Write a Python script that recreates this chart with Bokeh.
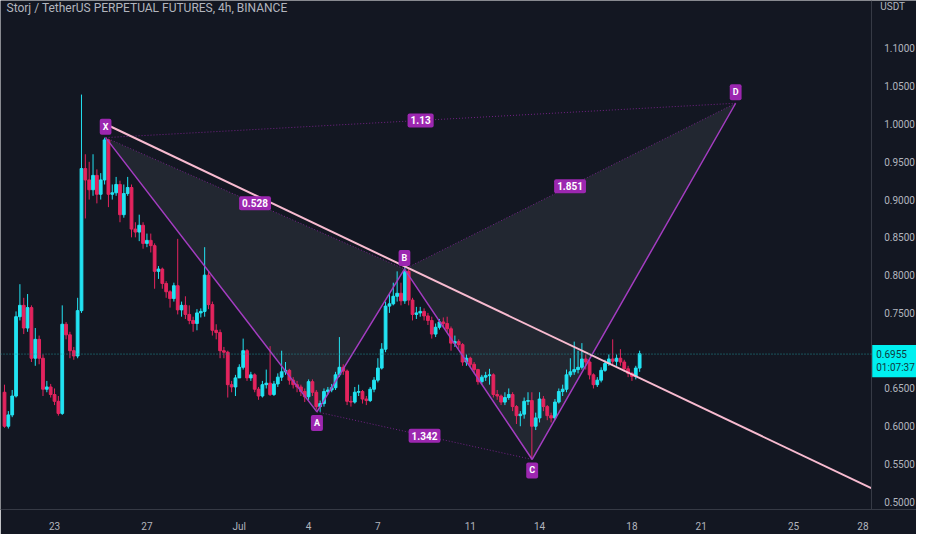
from bokeh.plotting import figure
from bokeh.models import FixedTicker, Span, Label, PrintfTickFormatter, LinearAxis
from bokeh.embed import file_html
from bokeh.resources import INLINE

# ---------------- data ----------------
title_text = "Storj / TetherUS PERPETUAL FUTURES, 4h, BINANCE"
currency = "USDT"

# 4h candles; time axis in "day" units (June d -> d, July d -> 30 + d)
candle_start_day = 20.833
candle_step_days = 4 / 24
first_open = 0.645

closes = [0.600, 0.615, 0.640, 0.745, 0.760, 0.730, 0.757, 0.690, 0.715, 0.690,
          0.649, 0.652, 0.642, 0.633, 0.617, 0.735, 0.721, 0.700, 0.693, 0.753,
          0.941, 0.926, 0.913, 0.932, 0.907, 0.926, 0.979, 0.907, 0.909, 0.920,
          0.880, 0.908, 0.916, 0.861, 0.857, 0.866, 0.842, 0.846, 0.839, 0.805,
          0.808, 0.789, 0.778, 0.769, 0.786, 0.754, 0.760, 0.748, 0.740, 0.736,
          0.750, 0.752, 0.800, 0.761, 0.727, 0.724, 0.700, 0.698, 0.655, 0.652,
          0.664, 0.678, 0.700, 0.664, 0.668, 0.649, 0.640, 0.655, 0.657, 0.642,
          0.656, 0.665, 0.672, 0.674, 0.661, 0.655, 0.652, 0.646, 0.639, 0.659,
          0.645, 0.626, 0.630, 0.646, 0.648, 0.651, 0.668, 0.678, 0.673, 0.633,
          0.632, 0.645, 0.646, 0.636, 0.634, 0.649, 0.661, 0.677, 0.702, 0.759,
          0.762, 0.772, 0.776, 0.766, 0.805, 0.767, 0.748, 0.750, 0.752, 0.746,
          0.740, 0.722, 0.731, 0.738, 0.736, 0.729, 0.710, 0.712, 0.708, 0.685,
          0.690, 0.682, 0.675, 0.659, 0.665, 0.667, 0.668, 0.642, 0.640, 0.632,
          0.638, 0.642, 0.626, 0.614, 0.616, 0.633, 0.634, 0.600, 0.611, 0.636,
          0.626, 0.614, 0.611, 0.632, 0.646, 0.649, 0.668, 0.672, 0.675, 0.678,
          0.689, 0.685, 0.668, 0.655, 0.661, 0.674, 0.683, 0.689, 0.686, 0.690,
          0.685, 0.676, 0.670, 0.666, 0.677, 0.696]

highs = [0.655, 0.620, 0.648, 0.752, 0.788, 0.770, 0.775, 0.760, 0.730, 0.720,
         0.695, 0.660, 0.656, 0.650, 0.640, 0.760, 0.738, 0.725, 0.705, 0.770,
         1.039, 0.960, 0.950, 0.960, 0.940, 0.935, 0.982, 0.980, 0.920, 0.930,
         0.925, 0.920, 0.930, 0.920, 0.870, 0.880, 0.870, 0.855, 0.855, 0.842,
         0.812, 0.810, 0.792, 0.780, 0.790, 0.848, 0.765, 0.772, 0.760, 0.745,
         0.755, 0.756, 0.837, 0.805, 0.765, 0.735, 0.728, 0.705, 0.700, 0.660,
         0.668, 0.682, 0.716, 0.702, 0.672, 0.670, 0.652, 0.660, 0.675, 0.706,
         0.660, 0.670, 0.700, 0.685, 0.676, 0.665, 0.660, 0.655, 0.650, 0.662,
         0.662, 0.648, 0.634, 0.650, 0.652, 0.656, 0.672, 0.718, 0.682, 0.675,
         0.640, 0.652, 0.655, 0.648, 0.640, 0.652, 0.665, 0.690, 0.710, 0.765,
         0.775, 0.790, 0.805, 0.790, 0.812, 0.810, 0.770, 0.758, 0.758, 0.756,
         0.750, 0.745, 0.736, 0.742, 0.744, 0.745, 0.732, 0.720, 0.715, 0.710,
         0.695, 0.692, 0.685, 0.676, 0.668, 0.672, 0.676, 0.670, 0.648, 0.642,
         0.645, 0.650, 0.645, 0.628, 0.620, 0.638, 0.645, 0.645, 0.618, 0.645,
         0.640, 0.628, 0.618, 0.636, 0.650, 0.655, 0.675, 0.690, 0.712, 0.700,
         0.710, 0.695, 0.688, 0.670, 0.665, 0.678, 0.688, 0.695, 0.715, 0.695,
         0.702, 0.688, 0.680, 0.672, 0.680, 0.700]

lows = [0.598, 0.597, 0.612, 0.638, 0.740, 0.722, 0.725, 0.685, 0.680, 0.682,
        0.640, 0.645, 0.638, 0.628, 0.614, 0.615, 0.715, 0.690, 0.688, 0.690,
        0.750, 0.875, 0.900, 0.905, 0.895, 0.900, 0.920, 0.890, 0.900, 0.905,
        0.870, 0.876, 0.905, 0.850, 0.850, 0.845, 0.835, 0.837, 0.830, 0.782,
        0.795, 0.782, 0.770, 0.757, 0.765, 0.748, 0.745, 0.742, 0.735, 0.725,
        0.727, 0.744, 0.745, 0.755, 0.720, 0.715, 0.690, 0.690, 0.638, 0.645,
        0.640, 0.665, 0.675, 0.660, 0.660, 0.645, 0.635, 0.638, 0.650, 0.640,
        0.640, 0.652, 0.660, 0.668, 0.655, 0.650, 0.645, 0.640, 0.632, 0.635,
        0.640, 0.622, 0.619, 0.626, 0.642, 0.645, 0.648, 0.665, 0.668, 0.628,
        0.626, 0.630, 0.640, 0.630, 0.628, 0.632, 0.645, 0.658, 0.675, 0.698,
        0.750, 0.760, 0.765, 0.760, 0.762, 0.760, 0.740, 0.742, 0.745, 0.740,
        0.734, 0.716, 0.718, 0.728, 0.730, 0.725, 0.700, 0.705, 0.702, 0.680,
        0.680, 0.678, 0.670, 0.655, 0.655, 0.660, 0.655, 0.638, 0.635, 0.628,
        0.628, 0.635, 0.620, 0.603, 0.600, 0.610, 0.628, 0.557, 0.595, 0.605,
        0.620, 0.608, 0.605, 0.608, 0.630, 0.640, 0.645, 0.665, 0.668, 0.670,
        0.675, 0.675, 0.662, 0.650, 0.652, 0.658, 0.672, 0.680, 0.682, 0.680,
        0.680, 0.672, 0.665, 0.660, 0.662, 0.672]

last_price = 0.6955
countdown = "01:07:37"

# harmonic pattern points
pattern_names = ["X", "A", "B", "C", "D"]
pattern_days = [25.21, 34.36, 38.15, 43.68, 52.49]
pattern_prices = [0.982, 0.619, 0.808, 0.556, 1.0275]
# ratio lines: (from, to, text)
ratio_from = ["X", "A", "B", "X"]
ratio_to = ["B", "C", "D", "D"]
ratio_text = ["0.528", "1.342", "1.851", "1.13"]

# trend line drawing (runs to the price scale)
trend_days = [25.13, 58.36]
trend_prices = [1.001, 0.518]

# axes
x_tick_days = [23, 27, 31, 34, 37, 41, 44, 48, 51, 55, 58]
x_tick_labels = ["23", "27", "Jul", "4", "7", "11", "14", "18", "21", "25", "28"]
y_ticks = [0.50, 0.55, 0.60, 0.65, 0.70, 0.75, 0.80, 0.85, 0.90, 0.95, 1.00, 1.05, 1.10]
x_range = (20.66, 60.32)
price_scale_day = 58.36          # where the price scale sits on the time axis
y_range = (0.4898, 1.1635)

# ---------------- styling ----------------
BG = "#131722"
UP = "#22e3f2"
DOWN = "#e3245e"
PURPLE = "#9c27b0"
TEXT = "#b2b5be"
AXIS = "#363a45"
FONT = "Roboto"

W, H = 916, 534
BB = 20

p = figure(width=W, height=H, x_range=x_range, y_range=y_range,
           output_backend="svg", toolbar_location=None,
           y_axis_location=None,
           background_fill_color=BG, border_fill_color=BG,
           outline_line_color=None,
           min_border_left=0, min_border_top=0,
           min_border_right=0, min_border_bottom=BB)
p.grid.visible = False

p.xaxis.ticker = FixedTicker(ticks=x_tick_days)
p.xaxis.major_label_overrides = {d: s for d, s in zip(x_tick_days, x_tick_labels)}

yaxis = LinearAxis(ticker=FixedTicker(ticks=y_ticks),
                   formatter=PrintfTickFormatter(format="%.4f"),
                   fixed_location=price_scale_day)
p.add_layout(yaxis, "right")

for ax in (p.xaxis[0], yaxis):
    ax.axis_line_color = AXIS
    ax.axis_line_width = 1
    ax.major_tick_line_color = None
    ax.minor_tick_line_color = None
    ax.major_label_text_color = TEXT
    ax.major_label_text_font = FONT
    ax.major_label_text_font_size = "10px"
yaxis.major_label_standoff = 7
p.xaxis.major_label_standoff = 5

# candles
times = [candle_start_day + i * candle_step_days for i in range(len(closes))]
opens = [first_open] + closes[:-1]
colors = [UP if c >= o else DOWN for o, c in zip(opens, closes)]
tops = [max(o, c) for o, c in zip(opens, closes)]
bots = [min(o, c) for o, c in zip(opens, closes)]
hi = [max(h, t) for h, t in zip(highs, tops)]
lo = [min(l, b) for l, b in zip(lows, bots)]

# price line
p.add_layout(Span(location=last_price, dimension="width", line_color="#1f8f94",
                  line_dash="1 2", line_width=1))

# pattern fills
pt = {n: (d, v) for n, d, v in zip(pattern_names, pattern_days, pattern_prices)}
tri1 = ["X", "A", "B"]
tri2 = ["B", "C", "D"]
p.patches(xs=[[pt[n][0] for n in tri1], [pt[n][0] for n in tri2]],
          ys=[[pt[n][1] for n in tri1], [pt[n][1] for n in tri2]],
          fill_color="#969ba5", fill_alpha=0.12, line_color=None)

p.segment(x0=times, y0=lo, x1=times, y1=hi, line_color=colors, line_width=1)
p.vbar(x=times, width=0.12, top=tops, bottom=bots, fill_color=colors, line_color=colors)

# pattern lines
p.line(pattern_days, pattern_prices, line_color="#a33cc0", line_width=1.5)
p.segment(x0=[pt[a][0] for a in ratio_from], y0=[pt[a][1] for a in ratio_from],
          x1=[pt[b][0] for b in ratio_to], y1=[pt[b][1] for b in ratio_to],
          line_color="#9c27b0", line_alpha=0.7, line_width=1, line_dash="1 2")

# trend line
p.line(trend_days, trend_prices, line_color="#f8bbd0", line_width=2)

# ratio labels
for a, b, t in zip(ratio_from, ratio_to, ratio_text):
    mx = (pt[a][0] + pt[b][0]) / 2
    my = (pt[a][1] + pt[b][1]) / 2
    p.add_layout(Label(x=mx, y=my, text=t, text_align="center", text_baseline="middle",
                       text_color="white", text_font=FONT, text_font_size="10px",
                       text_font_style="bold",
                       background_fill_color="#9c27b0", padding=3, border_radius=2))

# point labels
for n in pattern_names:
    d, v = pt[n]
    off = -11 if n in ("A", "C") else 11
    p.add_layout(Label(x=d, y=v, y_offset=off, text=n, text_align="center",
                       text_baseline="middle", text_color="white", text_font=FONT,
                       text_font_size="9px", text_font_style="bold",
                       background_fill_color="#9c27b0", padding=3, border_radius=2))

# title and currency
fh = H - BB
p.add_layout(Label(x=6, y=fh - 5, x_units="screen", y_units="screen", text=title_text,
                   text_align="left", text_baseline="top", text_color=TEXT,
                   text_font=FONT, text_font_size="12px"))
p.add_layout(Label(x=price_scale_day, y=fh - 5, x_offset=9, y_units="screen",
                   text=currency, text_align="left", text_baseline="top",
                   text_color=TEXT, text_font=FONT, text_font_size="10px"))

# last price label on the price scale
p.add_layout(Label(x=price_scale_day, y=last_price, x_offset=1, y_offset=-7,
                   text=f"{last_price:.4f}\n{countdown}", text_align="left",
                   text_baseline="middle", text_color="#0f3b40", text_font=FONT,
                   text_font_size="10px", background_fill_color="#00f0f0",
                   padding=4))

open("out.html", "w").write(file_html(p, INLINE))
